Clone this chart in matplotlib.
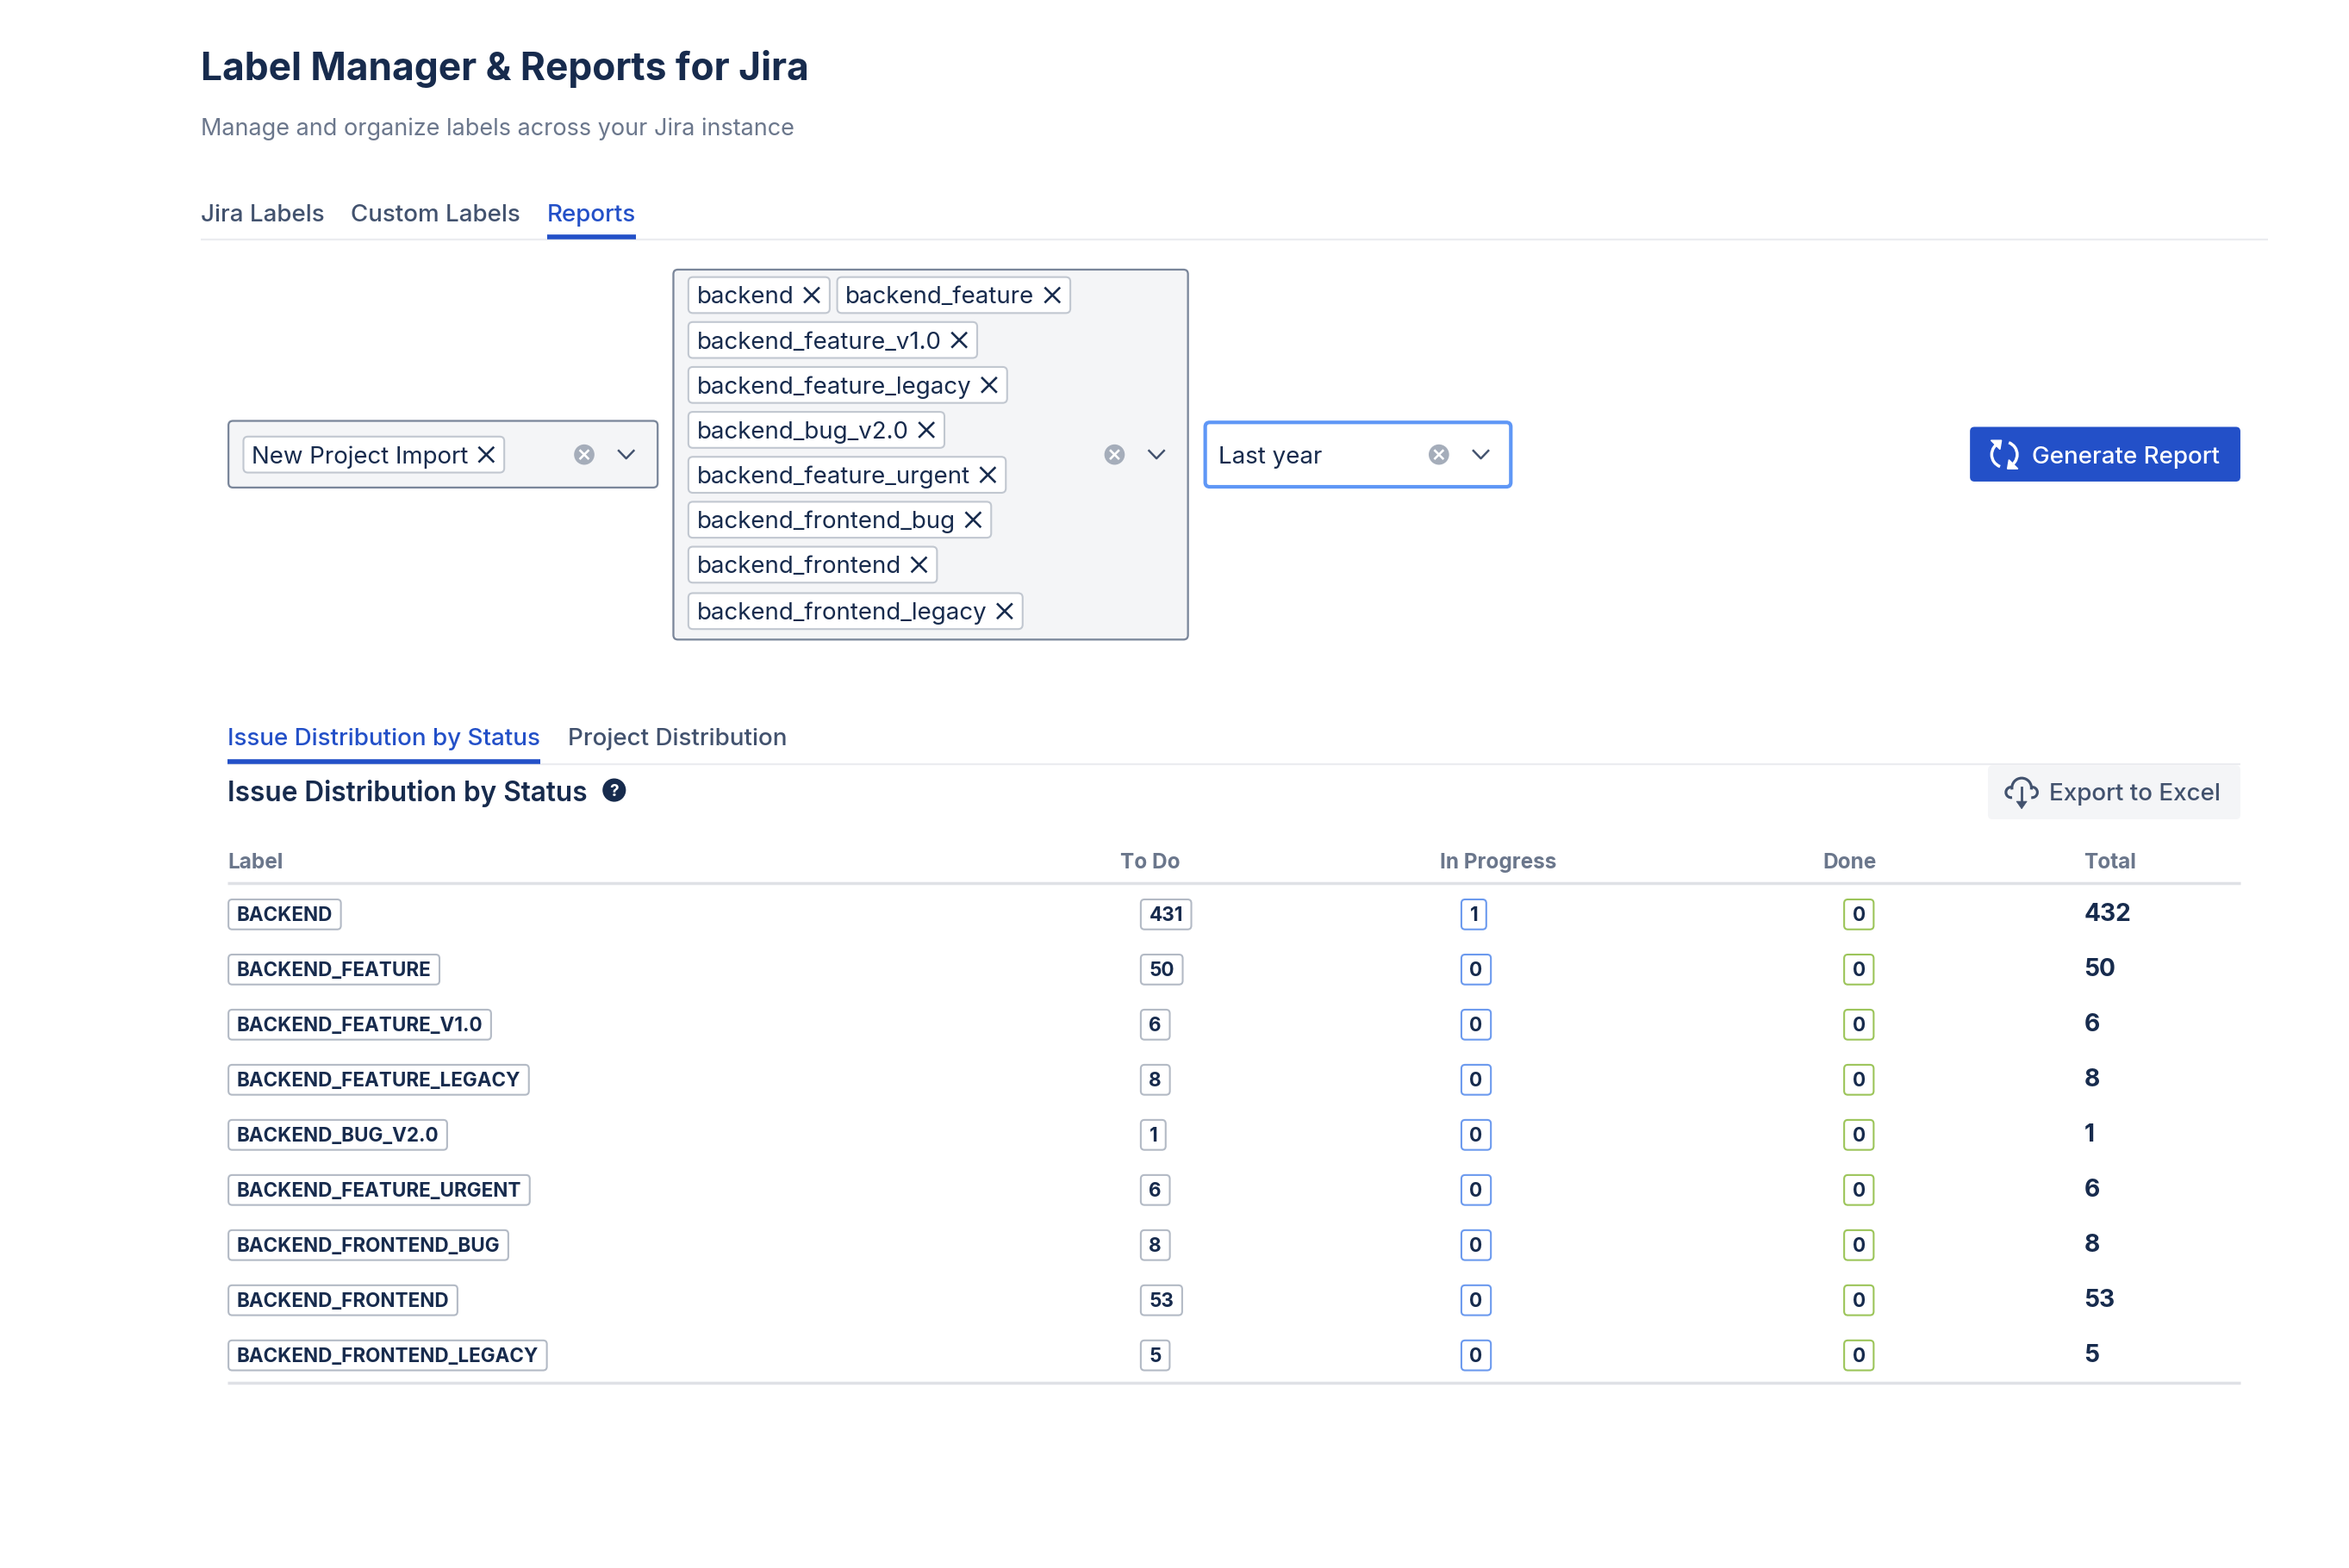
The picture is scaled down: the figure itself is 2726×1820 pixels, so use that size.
import matplotlib
matplotlib.use("Agg")
import matplotlib.pyplot as plt
from matplotlib.patches import FancyBboxPatch, Circle, Arc, Polygon

plt.rcParams['font.family'] = ['Inter', 'DejaVu Sans']

#table data
labels = ["BACKEND", "BACKEND_FEATURE", "BACKEND_FEATURE_V1.0", "BACKEND_FEATURE_LEGACY", "BACKEND_BUG_V2.0",
          "BACKEND_FEATURE_URGENT", "BACKEND_FRONTEND_BUG", "BACKEND_FRONTEND", "BACKEND_FRONTEND_LEGACY"]
todo = [431, 50, 6, 8, 1, 6, 8, 53, 5]
in_progress = [1, 0, 0, 0, 0, 0, 0, 0, 0]
done = [0, 0, 0, 0, 0, 0, 0, 0, 0]
total = [432, 50, 6, 8, 1, 6, 8, 53, 5]

headers = ["Label", "To Do", "In Progress", "Done", "Total"]
main_tabs = ["Jira Labels", "Custom Labels", "Reports"]
sub_tabs = ["Issue Distribution by Status", "Project Distribution"]
tag_rows = [["backend", "backend_feature"], ["backend_feature_v1.0"], ["backend_feature_legacy"], ["backend_bug_v2.0"],
            ["backend_feature_urgent"], ["backend_frontend_bug"], ["backend_frontend"], ["backend_frontend_legacy"]]

#colours
DARK = "#172B4D"
GREY = "#6B778C"
TAB = "#42526E"
BLUE = "#2350C8"
LINE = "#EBECF0"
S = 2726 / 1568  # all coordinates below are on a 1568 wide page

fig = plt.figure(figsize=(27.26, 18.20), dpi=100)
ax = fig.add_axes([0, 0, 1, 1])
ax.set_xlim(0, 1568)
ax.set_ylim(1820 / S, 0)
ax.axis("off")
renderer = fig.canvas.get_renderer()


def txt(x, y, s, size, color=DARK, weight="normal", ha="left"):
    # y is the vertical middle of the capitals
    return ax.text(x, y + 0.36 * size, s, fontsize=size * S * 0.72, color=color, weight=weight, ha=ha, va="baseline", zorder=5)


def width(t):
    return t.get_window_extent(renderer).width / S


def box(x0, y0, x1, y1, fc="white", ec="none", lw=0, r=3, z=2):
    ax.add_patch(FancyBboxPatch((x0, y0), x1 - x0, y1 - y0, boxstyle=f"round,pad=0,rounding_size={r}",
                                fc=fc, ec=ec, lw=lw * S * 0.72, zorder=z))


def hline(x0, x1, y, color, lw):
    ax.plot([x0, x1], [y, y], color=color, lw=lw * S * 0.72, solid_capstyle="butt", zorder=3)


def cross(x, y, r, color, lw=1.4):
    ax.plot([x - r, x + r], [y - r, y + r], color=color, lw=lw * S * 0.72, zorder=6)
    ax.plot([x - r, x + r], [y + r, y - r], color=color, lw=lw * S * 0.72, zorder=6)


def clear_icon(x, y):
    ax.add_patch(Circle((x, y), 6.8, fc="#A5ADBA", ec="none", zorder=5))
    cross(x, y, 2.6, "white", 1.5)


def chevron(x, y):
    ax.plot([x - 5, x, x + 5], [y - 2.6, y + 2.6, y - 2.6], color=TAB, lw=1.4 * S * 0.72, zorder=5)


def chip(x, y, s):
    t = txt(x + 5.5, y, s, 15.9)
    w = width(t)
    box(x, y - 12, x + w + 29.5, y + 12, ec="#C1C7D0", lw=1.2, r=3, z=3)
    cross(x + w + 17.5, y, 4.6, DARK, 1.5)
    return x + w + 29.5


def badge(x, y, s, ec):
    t = txt(x + 5.5, y, s, 12.93, weight="bold")
    box(x, y - 10, x + width(t) + 11, y + 10, ec=ec, lw=1.2, r=2.5, z=3)


#page heading and tabs
txt(134, 44.5, "Label Manager & Reports for Jira", 25.5, weight="bold")
txt(134, 84.5, "Manage and organize labels across your Jira instance", 15.55, color=GREY)
hline(134, 1514, 160, LINE, 1.3)
for tab_x, name in zip([134, 234, 365], main_tabs):
    active = name == "Reports"
    t = txt(tab_x, 142, name, 15.95, color=BLUE if active else TAB, weight="medium")
    if active:
        hline(tab_x, tab_x + width(t), 158.4, BLUE, 3.2)

#project select
box(152.5, 281, 439, 325.5, fc="#F4F5F7", ec="#7A869A", lw=1.3)
chip(162.5, 303.5, "New Project Import")
clear_icon(390, 303.5)
chevron(418, 303.5)

#label select
box(449.5, 180, 793, 427, fc="#F4F5F7", ec="#7A869A", lw=1.3)
row_y = [197, 227, 257, 287, 317, 347, 377, 408]
for y, row in zip(row_y, tag_rows):
    x = 459.5
    for name in row:
        x = chip(x, y, name) + 5
clear_icon(744, 303.5)
chevron(772, 303.5)

#date select
box(804.5, 282, 1008.5, 325, ec="#5F97F6", lw=2.4)
txt(813.5, 303.5, "Last year", 15.95)
clear_icon(960.5, 303.5)
chevron(988.5, 303.5)

#generate button
box(1315, 285, 1495.5, 321.5, fc=BLUE, r=3)
txt(1356.5, 303.5, "Generate Report", 16, color="white", weight="medium")
ax.add_patch(Arc((1338, 303.5), 17, 17, theta1=110, theta2=250, color="white", lw=2 * S * 0.72, zorder=6))
ax.add_patch(Arc((1338, 303.5), 17, 17, theta1=-70, theta2=70, color="white", lw=2 * S * 0.72, zorder=6))
ax.add_patch(Polygon([[1329, 294], [1336, 294], [1335, 300]], fc="white", ec="white", lw=1, zorder=6))
ax.add_patch(Polygon([[1340, 313], [1347, 313], [1341, 307]], fc="white", ec="white", lw=1, zorder=6))

#sub tabs
hline(152, 1495.5, 510, LINE, 1.3)
for tab_x, name in zip([152, 379], sub_tabs):
    active = name == sub_tabs[0]
    t = txt(tab_x, 492, name, 16, color=BLUE if active else TAB, weight="medium")
    if active:
        hline(tab_x, tab_x + width(t), 508.6, BLUE, 3.2)

#section heading
txt(152, 528.5, "Issue Distribution by Status", 18.15, weight="semibold")
ax.add_patch(Circle((410, 527.5), 7.8, fc=DARK, ec="none", zorder=5))
txt(410, 527.5, "?", 11, color="white", weight="bold", ha="center")

#export button
box(1327, 511, 1495.5, 547, fc="#F4F5F7", r=3)
txt(1368, 528.5, "Export to Excel", 16, color=TAB, weight="medium")
ax.add_patch(Arc((1349.5, 526), 13, 13, theta1=170, theta2=370, color=TAB, lw=1.8 * S * 0.72, zorder=6))
ax.add_patch(Arc((1342.5, 529), 7, 7, theta1=80, theta2=280, color=TAB, lw=1.8 * S * 0.72, zorder=6))
ax.add_patch(Arc((1356.5, 529), 7, 7, theta1=-100, theta2=100, color=TAB, lw=1.8 * S * 0.72, zorder=6))
ax.plot([1349.5, 1349.5], [526, 536], color=TAB, lw=1.6 * S * 0.72, zorder=6)
ax.add_patch(Polygon([[1346, 535], [1353, 535], [1349.5, 540]], fc=TAB, ec=TAB, lw=0.5, zorder=6))

#table
header_x = [152, 748, 961, 1217, 1391]
for x, name in zip(header_x, headers):
    txt(x, 574.7, name, 14.0, color=GREY, weight="bold")
hline(152, 1495.5, 589.8, "#DFE1E6", 2)
hline(152, 1495.5, 923, "#DFE1E6", 2)

row_gap = 36.8
for i, label in enumerate(labels):
    y = 610.5 + i * row_gap
    badge(152.5, y, label, "#B3BAC5")
    badge(761.5, y, str(todo[i]), "#B3BAC5")
    badge(975.5, y, str(in_progress[i]), "#6C9AEE")
    badge(1231, y, str(done[i]), "#9CC55A")
    txt(1391, y - 1.5, str(total[i]), 16.2, weight="bold")

fig.savefig("out.png", dpi=100)
